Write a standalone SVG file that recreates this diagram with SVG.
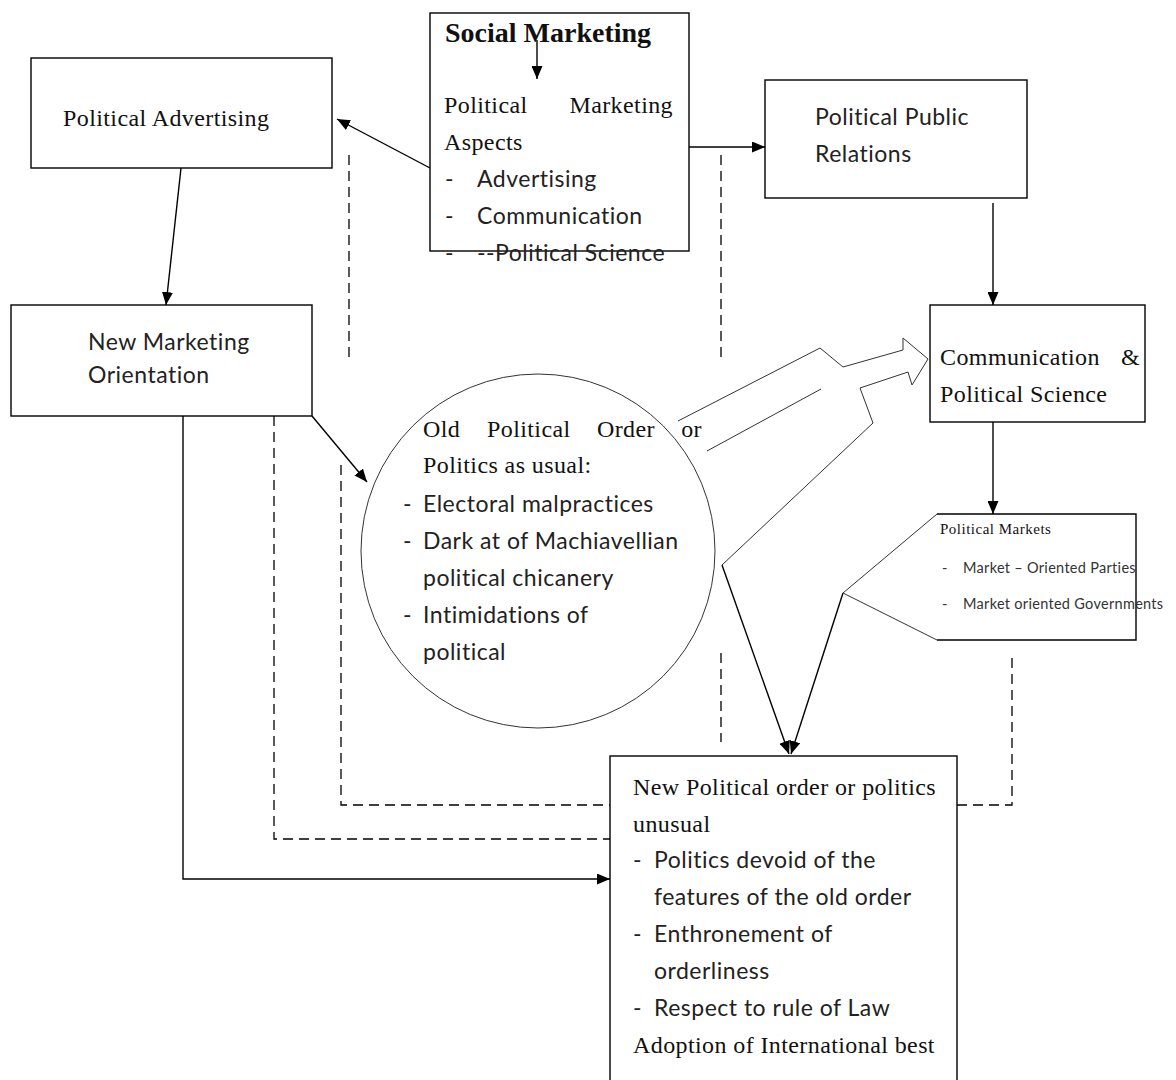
<svg xmlns="http://www.w3.org/2000/svg" width="1176" height="1080" viewBox="0 0 1176 1080">
<style>
.box{fill:#fff;stroke:#000;stroke-width:1.4}
.ln{fill:none;stroke:#000;stroke-width:1.4}
.thin{fill:none;stroke:#333;stroke-width:1}
.dash{fill:none;stroke:#000;stroke-width:1.3;stroke-dasharray:10 6}
.serif{font-family:"Liberation Serif","Times New Roman",serif;font-size:24px;letter-spacing:0.4px;fill:#111}
.sans{font-family:Lato,"Open Sans",sans-serif;font-size:23px;letter-spacing:0.5px;fill:#222}
.small{font-family:"Liberation Serif",serif;font-size:15px;letter-spacing:0.5px;fill:#111}
.smallsans{font-family:Lato,sans-serif;font-size:14.5px;letter-spacing:0.3px;fill:#333}
</style>
<defs>
<marker id="ah" viewBox="0 0 13 11" refX="13" refY="5.5" markerWidth="13" markerHeight="11" markerUnits="userSpaceOnUse" orient="auto">
<path d="M0,0 L13,5.5 L0,11 z" fill="#000"/>
</marker>
</defs>

<g id="connectors">
<line class="ln" x1="430" y1="168" x2="337" y2="119" marker-end="url(#ah)"/>
<line class="ln" x1="689" y1="147" x2="765" y2="147" marker-end="url(#ah)"/>
<line class="ln" x1="181" y1="168" x2="166" y2="305" marker-end="url(#ah)"/>
<line class="ln" x1="993" y1="203" x2="993" y2="305" marker-end="url(#ah)"/>
<line class="ln" x1="993" y1="422" x2="993" y2="514" marker-end="url(#ah)"/>
<line class="ln" x1="312" y1="416" x2="367" y2="482" marker-end="url(#ah)"/>
<polyline class="ln" points="183,416 183,879 610,879" marker-end="url(#ah)"/>
<line class="ln" x1="722" y1="565" x2="789" y2="754" marker-end="url(#ah)"/>
<line class="ln" x1="843" y1="593" x2="791" y2="754" marker-end="url(#ah)"/>
<line class="dash" x1="349" y1="155" x2="349" y2="363"/>
<line class="dash" x1="721" y1="155" x2="721" y2="363"/>
<line class="dash" x1="721" y1="653" x2="721" y2="742"/>
<polyline class="dash" points="341,465 341,805 610,805"/>
<polyline class="dash" points="274,416 274,839 610,839"/>
<polyline class="dash" points="957,805 1012,805 1012,654"/>
<polyline class="thin" points="678,421 820,348 843,367 903,350 903,338 928,359 912,385 908,372 860,388 873,423 722,565"/>
<line class="thin" x1="707" y1="451" x2="821" y2="389"/>
</g>

<g id="political-advertising">
<rect class="box" x="31" y="58" width="301" height="110"/>
<text class="serif" x="63" y="126">Political Advertising</text>
</g>

<g id="social-marketing">
<rect class="box" x="430" y="13" width="259" height="238"/>
<text class="serif" x="445" y="42" font-weight="bold" style="font-size:28px;letter-spacing:0">Social Marketing</text>
<line class="ln" x1="537" y1="40" x2="537" y2="79" marker-end="url(#ah)"/>
<text class="serif" x="444" y="113">Political</text>
<text class="serif" x="673" y="113" text-anchor="end">Marketing</text>
<text class="serif" x="444" y="150">Aspects</text>
<text class="sans" x="445" y="187">-</text>
<text class="sans" x="477" y="187">Advertising</text>
<text class="sans" x="445" y="224">-</text>
<text class="sans" x="477" y="224">Communication</text>
<text class="sans" x="445" y="261">-</text>
<text class="sans" x="477" y="261">--Political Science</text>
</g>

<g id="political-public-relations">
<rect class="box" x="765" y="80" width="262" height="118"/>
<text class="sans" x="815" y="125">Political Public</text>
<text class="sans" x="815" y="162">Relations</text>
</g>

<g id="new-marketing-orientation">
<rect class="box" x="11" y="305" width="301" height="111"/>
<text class="sans" x="88" y="350">New Marketing</text>
<text class="sans" x="88" y="383">Orientation</text>
</g>

<g id="communication-political-science">
<rect class="box" x="930" y="305" width="215" height="117"/>
<text class="serif" x="940" y="365">Communication</text>
<text class="serif" x="1140" y="365" text-anchor="end">&amp;</text>
<text class="serif" x="940" y="402">Political Science</text>
</g>

<g id="old-political-order">
<ellipse cx="538" cy="551" rx="177" ry="177" fill="none" stroke="#333" stroke-width="1"/>
<text class="serif" x="423" y="437">Old</text>
<text class="serif" x="487" y="437">Political</text>
<text class="serif" x="597" y="437">Order</text>
<text class="serif" x="702" y="437" text-anchor="end">or</text>
<text class="serif" x="423" y="473">Politics as usual:</text>
<text class="sans" x="403" y="512">-</text>
<text class="sans" x="423" y="512">Electoral malpractices</text>
<text class="sans" x="403" y="549">-</text>
<text class="sans" x="423" y="549">Dark at of Machiavellian</text>
<text class="sans" x="423" y="586">political chicanery</text>
<text class="sans" x="403" y="623">-</text>
<text class="sans" x="423" y="623">Intimidations of</text>
<text class="sans" x="423" y="660">political</text>
</g>

<g id="political-markets">
<polyline class="ln" points="937,514 1136,514 1136,640 937,640"/>
<polyline class="thin" points="937,514 843,593 937,640"/>
<text class="small" x="940" y="534">Political Markets</text>
<text class="smallsans" x="942" y="573">-</text>
<text class="smallsans" x="963" y="573">Market – Oriented Parties</text>
<text class="smallsans" x="942" y="609">-</text>
<text class="smallsans" x="963" y="609">Market oriented Governments</text>
</g>

<g id="new-political-order">
<rect class="box" x="610" y="756" width="347" height="340"/>
<text class="serif" x="633" y="795">New Political order or politics</text>
<text class="serif" x="633" y="832">unusual</text>
<text class="sans" x="633" y="868">-</text>
<text class="sans" x="654" y="868">Politics devoid of the</text>
<text class="sans" x="654" y="905">features of the old order</text>
<text class="sans" x="633" y="942">-</text>
<text class="sans" x="654" y="942">Enthronement of</text>
<text class="sans" x="654" y="979">orderliness</text>
<text class="sans" x="633" y="1016">-</text>
<text class="sans" x="654" y="1016">Respect to rule of Law</text>
<text class="serif" x="633" y="1053">Adoption of International best</text>
</g>
</svg>
